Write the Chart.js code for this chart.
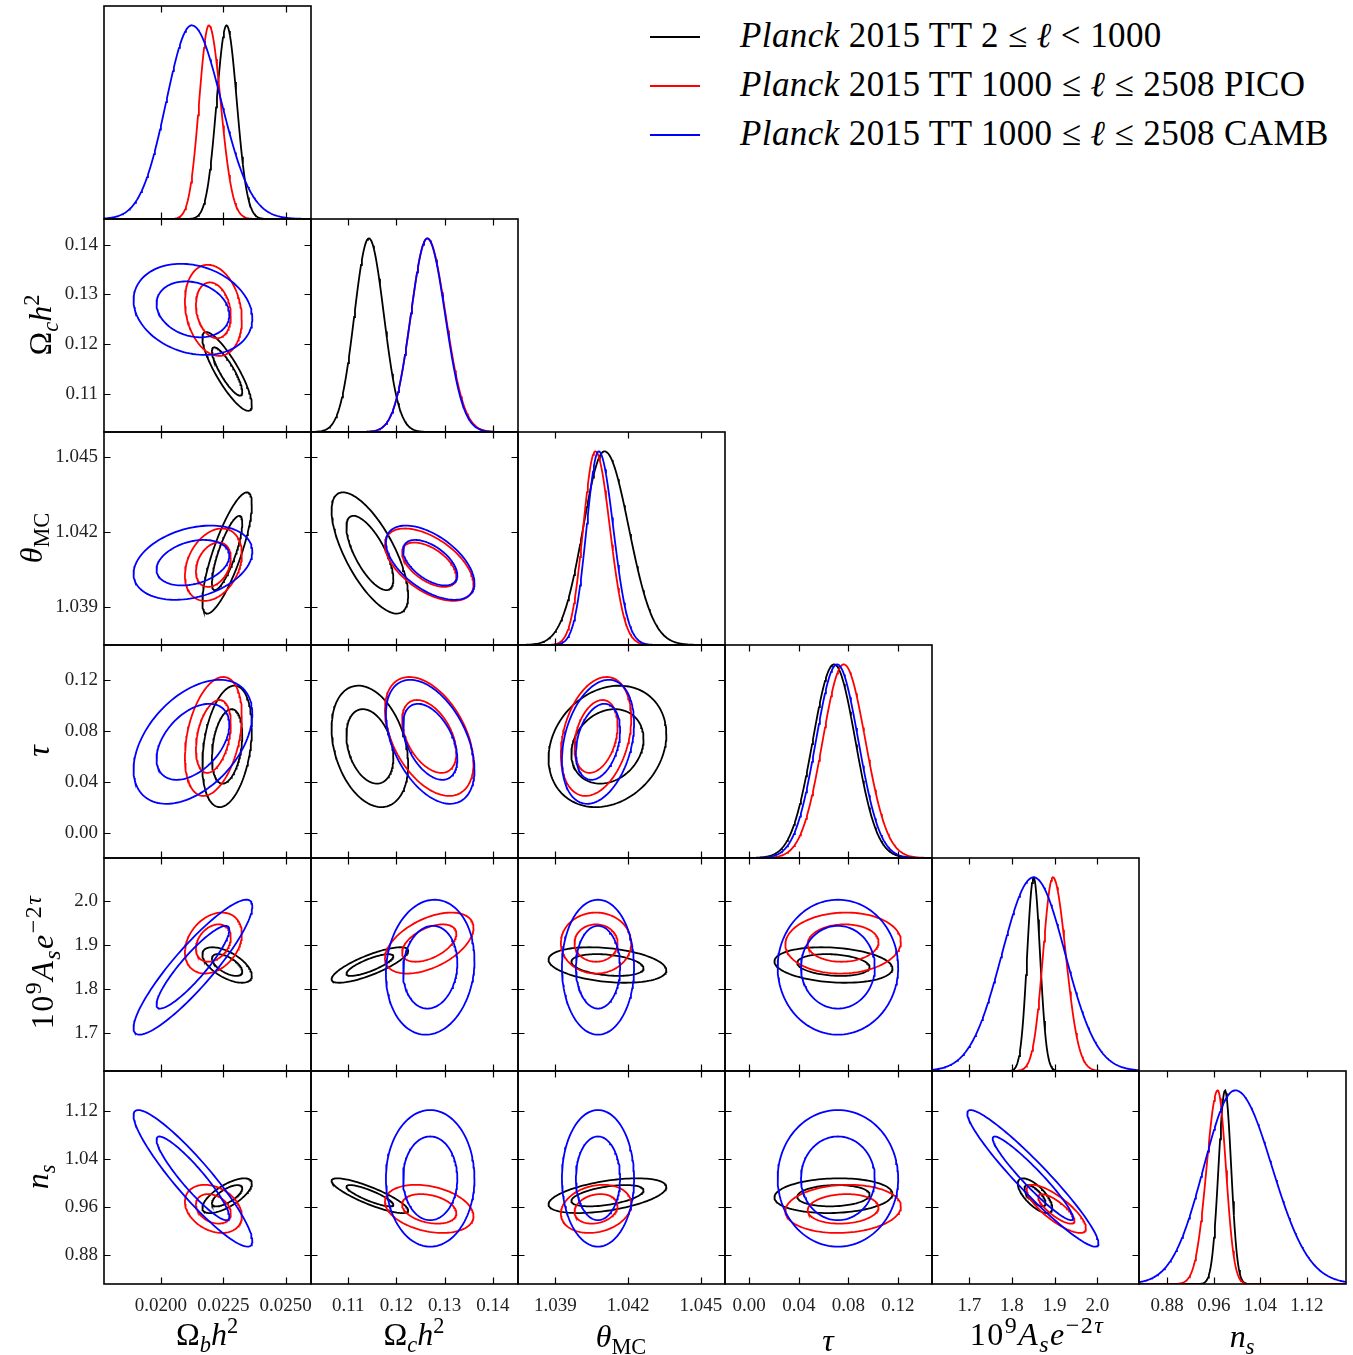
<!DOCTYPE html>
<html><head><meta charset="utf-8">
<script src="https://cdn.jsdelivr.net/npm/chart.js@4.4.0/dist/chart.umd.min.js"></script>
<style>
html,body{margin:0;padding:0;background:#fff;}
body{width:1353px;height:1355px;position:relative;overflow:hidden;font-family:"Liberation Serif","DejaVu Serif",serif;color:#000;}
canvas{position:absolute;}
.xt{position:absolute;transform:translate(-50%,-50%);font-size:32px;white-space:nowrap;line-height:1;}
.yt{position:absolute;transform:translate(-50%,-50%) rotate(-90deg);font-size:32px;white-space:nowrap;line-height:1;}
sub,sup{font-size:0.7em;line-height:0;}
.wide{letter-spacing:1.5px;}
.wide sup,.wide sub{font-size:0.75em;}
.leg{position:absolute;left:650px;height:0;}
.leg .ln{position:absolute;left:0;top:-1px;width:50px;height:2px;}
.leg .lt{position:absolute;left:90px;top:0;transform:translateY(-52%);font-size:35px;letter-spacing:0.4px;white-space:nowrap;}
</style></head><body>
<script>
// ---------------- DATA ----------------
const paramLabels = ['Ωbh²','Ωch²','θMC','τ','10⁹Aₛe⁻²ᵗ','nₛ'];
const axisMin = [0.017715, 0.1023, 1.03746, -0.0195, 1.6125, 0.8315];
const axisMax = [0.026014, 0.1452, 1.04600, 0.1475, 2.0978, 1.1873];
const tickValues = [
  [0.0200, 0.0225, 0.0250],
  [0.11, 0.12, 0.13, 0.14],
  [1.039, 1.042, 1.045],
  [0.00, 0.04, 0.08, 0.12],
  [1.7, 1.8, 1.9, 2.0],
  [0.88, 0.96, 1.04, 1.12]
];
const tickLabels = [
  ['0.0200', '0.0225', '0.0250'],
  ['0.11', '0.12', '0.13', '0.14'],
  ['1.039', '1.042', '1.045'],
  ['0.00', '0.04', '0.08', '0.12'],
  ['1.7', '1.8', '1.9', '2.0'],
  ['0.88', '0.96', '1.04', '1.12']
];
const seriesNames = [
  'Planck 2015 TT 2 ≤ ℓ < 1000',
  'Planck 2015 TT 1000 ≤ ℓ ≤ 2508 PICO',
  'Planck 2015 TT 1000 ≤ ℓ ≤ 2508 CAMB'
];
const seriesColors = ['#000000', '#ff0000', '#0000ff'];

// 1D marginals: peak position, left / right width (same order as parameters)
const peakK   = [0.02263, 0.1143, 1.04103, 0.0685, 1.8507, 0.9794];
const widthLK = [0.00040, 0.0030, 0.00088, 0.0172, 0.0150, 0.0112];
const widthRK = [0.00041, 0.0031, 0.00100, 0.0172, 0.0150, 0.0105];
const peakR   = [0.02192, 0.1264, 1.04065, 0.0763, 1.8960, 0.9668];
const widthLR = [0.00039, 0.0034, 0.00050, 0.0170, 0.0230, 0.0190];
const widthRR = [0.00047, 0.0038, 0.00060, 0.0175, 0.0300, 0.0140];
const peakB   = [0.02123, 0.1264, 1.04079, 0.0709, 1.8507, 0.9970];
const widthLB = [0.00102, 0.0034, 0.00050, 0.0170, 0.0740, 0.0540];
const widthRB = [0.00119, 0.0037, 0.00060, 0.0172, 0.0740, 0.0630];

// 2D contours: centre, sigma, correlation (lower triangle corr[row][col])
const centreK = [0.02265, 0.1145, 1.04115, 0.0680, 1.8540, 0.9790];
const sigmaK  = [0.00040, 0.0032, 0.00098, 0.0192, 0.0163, 0.0117];
const corrK = [[], [-0.85], [0.80, -0.70], [0.30, -0.30, 0.20], [-0.60, 0.80, -0.30, -0.20], [0.70, -0.85, 0.50, 0.10, -0.70]];
const centreR = [0.02210, 0.1268, 1.04068, 0.0758, 1.9040, 0.9570];
const sigmaR  = [0.00046, 0.0037, 0.000585, 0.0188, 0.0280, 0.0162];
const corrR = [[], [-0.20], [0.30, -0.55], [0.35, -0.45, 0.30], [0.30, 0.50, 0.00, 0.05], [-0.30, -0.30, 0.20, 0.10, -0.80]];
const centreB = [0.02128, 0.1270, 1.04076, 0.0716, 1.8490, 1.0080];
const sigmaB  = [0.00096, 0.0037, 0.00060, 0.0196, 0.0620, 0.0460];
const corrB = [[], [-0.20], [0.30, -0.55], [0.45, -0.45, 0.30], [0.90, 0.10, 0.00, 0.00], [-0.92, 0.00, 0.00, 0.00, -0.95]];
const contourLevels = [1.52, 2.48]; // 68% and 95% in sigma units (2D)
// ---------------------------------------

const series = [
  {color: seriesColors[0], peak: peakK, wL: widthLK, wR: widthRK, c: centreK, s: sigmaK, r: corrK, order: 2},
  {color: seriesColors[1], peak: peakR, wL: widthLR, wR: widthRR, c: centreR, s: sigmaR, r: corrR, order: 1},
  {color: seriesColors[2], peak: peakB, wL: widthLB, wR: widthRB, c: centreB, s: sigmaB, r: corrB, order: 0}
];

function marginal(sr, k) {
  const pts = [];
  const n = 240;
  for (let m = 0; m <= n; m++) {
    const x = axisMin[k] + (axisMax[k] - axisMin[k]) * m / n;
    const w = x < sr.peak[k] ? sr.wL[k] : sr.wR[k];
    const z = (x - sr.peak[k]) / w;
    pts.push({x: x, y: Math.exp(-0.5 * z * z)});
  }
  return pts;
}
function contour(sr, xi, yi, lev) {
  const pts = [];
  const n = 120;
  const rho = sr.r[yi][xi];
  const q = Math.sqrt(1 - rho * rho);
  for (let m = 0; m <= n; m++) {
    const t = 2 * Math.PI * m / n;
    const a = Math.cos(t), b = Math.sin(t);
    pts.push({x: sr.c[xi] + lev * sr.s[xi] * a, y: sr.c[yi] + lev * sr.s[yi] * (rho * a + q * b)});
  }
  return pts;
}

const GX = 104, GY = 6, CW = 207, CH = 213;
const FONT = '"Liberation Serif", "DejaVu Serif", serif';

const framePlugin = {
  id: 'frameTicks',
  afterDatasetsDraw(chart, args, o) {
    const {ctx, chartArea: a, scales} = chart;
    ctx.save();
    ctx.strokeStyle = '#000';
    ctx.lineWidth = 1.2;
    const L = 6.5;
    ctx.beginPath();
    for (const v of tickValues[o.xi]) {
      const x = Math.round(scales.x.getPixelForValue(v)) + 0.5;
      ctx.moveTo(x, a.bottom); ctx.lineTo(x, a.bottom - L);
      ctx.moveTo(x, a.top); ctx.lineTo(x, a.top + L);
    }
    if (o.yi !== null) {
      for (const v of tickValues[o.yi]) {
        const y = Math.round(scales.y.getPixelForValue(v)) + 0.5;
        ctx.moveTo(a.left, y); ctx.lineTo(a.left + L, y);
        ctx.moveTo(a.right, y); ctx.lineTo(a.right - L, y);
      }
    }
    ctx.stroke();
    ctx.lineWidth = 1.6;
    ctx.strokeRect(a.left, a.top, a.right - a.left, a.bottom - a.top);
    ctx.restore();
  }
};

for (let i = 0; i < 6; i++) {
  for (let j = 0; j <= i; j++) {
    const diag = (i === j);
    const showX = (i === 5);
    const showY = (j === 0 && !diag);
    const padL = showY ? 104 : 4, padR = 4, padT = 4, padB = showX ? 52 : 4;
    const cv = document.createElement('canvas');
    const w = CW + padL + padR, h = CH + padT + padB;
    cv.width = w; cv.height = h;
    cv.style.left = (GX + CW * j - padL) + 'px';
    cv.style.top = (GY + CH * i - padT) + 'px';
    cv.style.width = w + 'px'; cv.style.height = h + 'px';
    document.body.appendChild(cv);

    const datasets = [];
    if (diag) {
      series.forEach(sr => datasets.push({data: marginal(sr, i), borderColor: sr.color, borderWidth: 1.8, showLine: true, pointRadius: 0, fill: false, tension: 0, order: sr.order}));
    } else {
      series.forEach(sr => contourLevels.forEach(lev => datasets.push({data: contour(sr, j, i, lev), borderColor: sr.color, borderWidth: 1.8, showLine: true, pointRadius: 0, fill: false, tension: 0, order: sr.order})));
    }

    new Chart(cv, {
      type: 'scatter',
      data: {datasets},
      options: {
        responsive: false, animation: false, devicePixelRatio: 1,
        layout: {padding: {left: showY ? 0 : 4, right: 4, top: 4, bottom: showX ? 0 : 4}},
        plugins: {legend: {display: false}, tooltip: {enabled: false}, frameTicks: {xi: j, yi: diag ? null : i}},
        scales: {
          x: {
            type: 'linear', min: axisMin[j], max: axisMax[j], display: showX,
            afterBuildTicks: ax => { ax.ticks = tickValues[j].map(v => ({value: v})); },
            afterFit: s => { if (showX) { s.height = 52; } s.paddingLeft = 0; s.paddingRight = 0; },
            ticks: {callback: (v, k) => tickLabels[j][k], font: {family: FONT, size: 19}, color: '#222', padding: 11, maxRotation: 0, autoSkip: false},
            grid: {display: false, drawTicks: false}, border: {display: false}
          },
          y: {
            type: 'linear', min: diag ? 0 : axisMin[i], max: diag ? 1.1 : axisMax[i], display: showY,
            afterBuildTicks: ax => { if (!diag) ax.ticks = tickValues[i].map(v => ({value: v})); },
            afterFit: s => { if (showY) { s.width = 104; } s.paddingTop = 0; s.paddingBottom = 0; },
            ticks: {callback: (v, k) => diag ? '' : tickLabels[i][k], font: {family: FONT, size: 19}, color: '#222', padding: 6, autoSkip: false},
            grid: {display: false, drawTicks: false}, border: {display: false}
          }
        }
      },
      plugins: [framePlugin]
    });
  }
}
</script>

<!-- axis titles -->
<div class="xt" style="left:207px;top:1334px">Ω<sub><i>b</i></sub><i>h</i><sup>2</sup></div>
<div class="xt" style="left:414px;top:1334px">Ω<sub><i>c</i></sub><i>h</i><sup>2</sup></div>
<div class="xt" style="left:621px;top:1336px"><i>θ</i><sub>MC</sub></div>
<div class="xt" style="left:828px;top:1340px"><i>τ</i></div>
<div class="xt wide" style="left:1037px;top:1334px">10<sup>9</sup><i>A<sub>s</sub>e</i><sup>−2<i>τ</i></sup></div>
<div class="xt" style="left:1242px;top:1336px"><i>n<sub>s</sub></i></div>

<div class="yt" style="left:40px;top:325px">Ω<sub><i>c</i></sub><i>h</i><sup>2</sup></div>
<div class="yt" style="left:31px;top:538px"><i>θ</i><sub>MC</sub></div>
<div class="yt" style="left:38px;top:751px"><i>τ</i></div>
<div class="yt wide" style="left:42px;top:962px">10<sup>9</sup><i>A<sub>s</sub>e</i><sup>−2<i>τ</i></sup></div>
<div class="yt" style="left:37px;top:1177px"><i>n<sub>s</sub></i></div>

<!-- legend -->
<div class="leg" style="top:37px"><span class="ln" style="background:#000000"></span><span class="lt"><i>Planck</i> 2015 TT 2 ≤ <i>ℓ</i> &lt; 1000</span></div>
<div class="leg" style="top:86px"><span class="ln" style="background:#ff0000"></span><span class="lt"><i>Planck</i> 2015 TT 1000 ≤ <i>ℓ</i> ≤ 2508 PICO</span></div>
<div class="leg" style="top:135px"><span class="ln" style="background:#0000ff"></span><span class="lt"><i>Planck</i> 2015 TT 1000 ≤ <i>ℓ</i> ≤ 2508 CAMB</span></div>
</body></html>
